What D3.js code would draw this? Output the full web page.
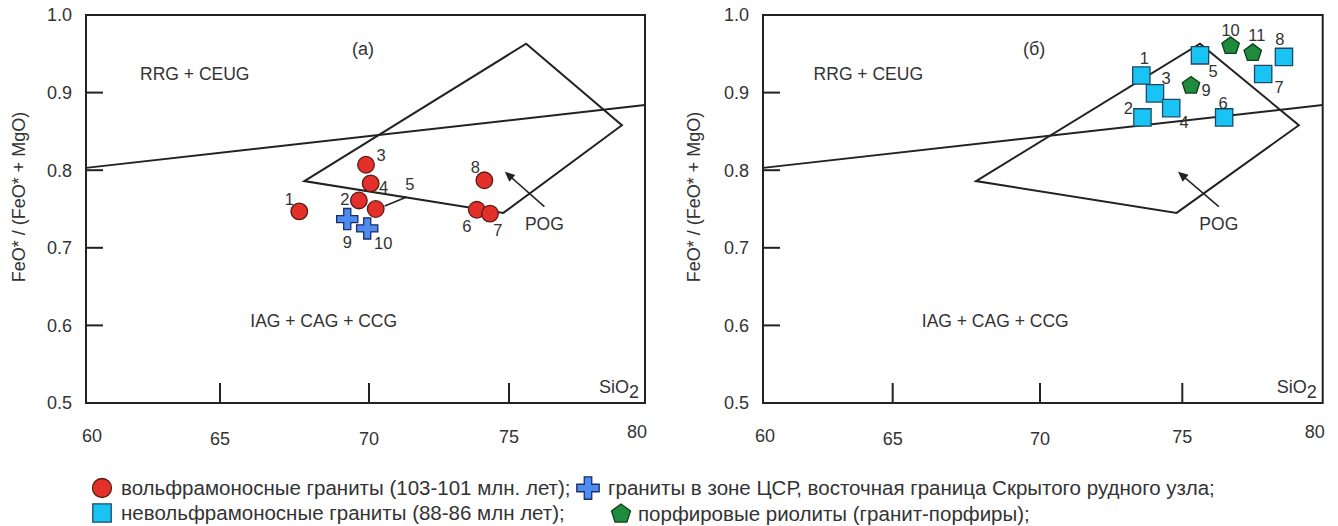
<!DOCTYPE html>
<html><head><meta charset="utf-8">
<script src="https://cdn.jsdelivr.net/npm/d3@7"></script>
<style>
body{margin:0;background:#fff}
text{font-family:"Liberation Sans",Arial,sans-serif;fill:#333}
</style>
</head><body>
<svg id="chart" width="1338" height="526"></svg>
<script>
// ---------- data ----------
const xTicks = [60, 65, 70, 75, 80];
const xTickLabels = ["60", "65", "70", "75", "80"];
const yTicks = [0.5, 0.6, 0.7, 0.8, 0.9, 1.0];
const yTickLabels = ["0.5", "0.6", "0.7", "0.8", "0.9", "1.0"];
const innerXTicks = [65, 70, 75];
const innerYTicks = [0.6, 0.7, 0.8, 0.9];

const dividerLine = [[60, 0.803], [80, 0.884]];
const pogField = [[67.83, 0.786], [75.63, 0.963], [79.15, 0.858], [74.8, 0.745]];
const pogArrow = [[76.3, 0.753], [74.85, 0.798]];

const fieldNames = ["RRG + CEUG", "IAG + CAG + CCG", "POG"];
const fieldSi = [64.06, 68.48, 76.3];
const fieldRatio = [0.924, 0.606, 0.731];

const panelTitles = ["(a)", "(б)"];
const yAxisTitle = "FeO* / (FeO* + MgO)";

// panel (a): tungsten-bearing granites (red circles)
const wIds = ["1", "2", "3", "4", "5", "6", "7", "8"];
const wSi = [67.66, 69.66, 69.90, 70.06, 70.24, 73.85, 74.32, 74.12];
const wRatio = [0.747, 0.761, 0.807, 0.783, 0.750, 0.749, 0.744, 0.787];

// panel (a): granites in the ЦСР zone (blue crosses)
const tsIds = ["9", "10"];
const tsSi = [69.27, 69.94];
const tsRatio = [0.737, 0.725];

// panel (б): non-tungsten granites (cyan squares)
const nwIds = ["1", "2", "3", "4", "5", "6", "7", "8"];
const nwSi = [73.56, 73.60, 74.04, 74.61, 75.63, 76.49, 77.88, 78.62];
const nwRatio = [0.922, 0.868, 0.899, 0.880, 0.948, 0.868, 0.924, 0.946];

// panel (б): porphyry rhyolites (green pentagons)
const rhIds = ["9", "10", "11"];
const rhSi = [75.31, 76.72, 77.51];
const rhRatio = [0.909, 0.960, 0.951];

const legendLabels = [
  "вольфрамоносные граниты (103-101 млн. лет);",
  "граниты в зоне ЦСР, восточная граница Скрытого рудного узла;",
  "невольфрамоносные граниты (88-86 млн лет);",
  "порфировые риолиты (гранит-порфиры);"
];

// ---------- layout / style ----------
const svg = d3.select("#chart");
const ink = "#222";
const styles = {
  circle: {fill: "#e3302a", stroke: "#5a1c18"},
  cross: {fill: "#4f8cf2", stroke: "#1b2d66"},
  square: {fill: "#19c3f3", stroke: "#1c4a66"},
  pentagon: {fill: "#1e8c3c", stroke: "#0f3d1c"}
};
const symbolPentagon = {
  draw(ctx, size) {
    const r = Math.sqrt(size);
    for (let i = 0; i < 5; i++) {
      const a = -Math.PI / 2 + i * 2 * Math.PI / 5;
      const px = r * Math.cos(a), py = r * Math.sin(a);
      if (i === 0) ctx.moveTo(px, py); else ctx.lineTo(px, py);
    }
    ctx.closePath();
  }
};
const symbolDefs = {
  circle: d3.symbol().type(d3.symbolCircle).size(Math.PI * 8.3 * 8.3),
  cross: d3.symbol().type(d3.symbolCross).size(250),
  square: d3.symbol().type(d3.symbolSquare).size(300),
  pentagon: d3.symbol().type(symbolPentagon).size(84)
};
const legendSymbolDefs = {
  circle: d3.symbol().type(d3.symbolCircle).size(Math.PI * 9.5 * 9.5),
  cross: d3.symbol().type(d3.symbolCross).size(280),
  square: d3.symbol().type(d3.symbolSquare).size(340),
  pentagon: d3.symbol().type(symbolPentagon).size(100)
};

const yRange = [403, 15];
const panels = [
  {xr: [86, 220, 369, 509, 645], title: 0, yTitleX: 19, tickDx: [6, 0, 0, 0, -8], tickDy: [-2, 1, 1, -1, -6],
   series: [
     {ids: wIds, si: wSi, ratio: wRatio, shape: "circle",
      off: [[-10, -12], [-14, -1], [15, -10], [13, 4], [34, -25], [-10, 16], [8, 17], [-9, -13]]},
     {ids: tsIds, si: tsSi, ratio: tsRatio, shape: "cross", off: [[0, 23], [16, 15]]}
   ],
   leader: {series: 0, index: 4, from: [9, -3], to: [31, -12]}},
  {xr: [763, 892.7, 1040, 1182.3, 1322.7], title: 1, yTitleX: 694, tickDx: [2, 0, 0, 0, -8], tickDy: [-2, 1, 1, -1, -6],
   series: [
     {ids: nwIds, si: nwSi, ratio: nwRatio, shape: "square",
      off: [[3, -17], [-14, -9], [11, -15], [13, 14], [13, 16], [-1, -14], [16, 13], [-4, -18]]},
     {ids: rhIds, si: rhSi, ratio: rhRatio, shape: "pentagon", off: [[15, 5], [0, -16], [4, -18]]}
   ]}
];

panels.forEach(p => {
  const x = d3.scaleLinear().domain(xTicks).range(p.xr);
  const y = d3.scaleLinear().domain([0.5, 1.0]).range(yRange);
  const g = svg.append("g");

  // frame
  g.append("rect").attr("x", x(60)).attr("y", y(1.0))
    .attr("width", x(80) - x(60)).attr("height", y(0.5) - y(1.0))
    .attr("fill", "none").attr("stroke", ink).attr("stroke-width", 2);

  // inner ticks
  g.selectAll(".xt").data(innerXTicks).join("line")
    .attr("x1", d => x(d)).attr("x2", d => x(d))
    .attr("y1", y(0.5)).attr("y2", y(0.5) - 20)
    .attr("stroke", ink).attr("stroke-width", 2);
  g.selectAll(".yt").data(innerYTicks).join("line")
    .attr("x1", x(60)).attr("x2", x(60) + 17)
    .attr("y1", d => y(d)).attr("y2", d => y(d))
    .attr("stroke", ink).attr("stroke-width", 2);

  // tick labels
  g.selectAll(".xl").data(xTicks).join("text")
    .attr("x", (d, i) => x(d) + p.tickDx[i]).attr("y", (d, i) => 444 + p.tickDy[i])
    .attr("text-anchor", "middle").attr("font-size", 18)
    .text((d, i) => xTickLabels[i]);
  g.selectAll(".yl").data(yTicks).join("text")
    .attr("x", x(60) - 14).attr("y", d => y(d))
    .attr("dy", "0.36em").attr("text-anchor", "end").attr("font-size", 18)
    .text((d, i) => yTickLabels[i]);

  // SiO2
  const si = g.append("text").attr("x", x(80) - 6).attr("y", 393)
    .attr("text-anchor", "end").attr("font-size", 18);
  si.append("tspan").text("SiO");
  si.append("tspan").attr("dy", 5).text("2");

  // y title
  g.append("text")
    .attr("transform", `translate(${p.yTitleX},${(y(1.0) + y(0.5)) / 2 - 12}) rotate(-90)`)
    .attr("text-anchor", "middle").attr("dy", "0.35em").attr("font-size", 18)
    .text(yAxisTitle);

  // panel title
  g.append("text").attr("x", x(69.8)).attr("y", y(0.957)).attr("dy", "0.35em")
    .attr("text-anchor", "middle").attr("font-size", 18).text(panelTitles[p.title]);

  // field names
  g.selectAll(".fn").data(fieldNames).join("text")
    .attr("x", (d, i) => x(fieldSi[i])).attr("y", (d, i) => y(fieldRatio[i]))
    .attr("dy", "0.35em").attr("text-anchor", "middle").attr("font-size", 17.5)
    .text(d => d);

  const line = d3.line().x(d => x(d[0])).y(d => y(d[1]));
  // divider
  g.append("path").attr("d", line(dividerLine)).attr("fill", "none")
    .attr("stroke", ink).attr("stroke-width", 2);
  // POG field
  g.append("path").attr("d", line(pogField) + "Z").attr("fill", "none")
    .attr("stroke", ink).attr("stroke-width", 2).attr("stroke-linejoin", "miter");
  // arrow
  const [t, h] = pogArrow.map(d => [x(d[0]), y(d[1])]);
  const ang = Math.atan2(h[1] - t[1], h[0] - t[0]);
  g.append("line").attr("x1", t[0]).attr("y1", t[1])
    .attr("x2", h[0] - 4 * Math.cos(ang)).attr("y2", h[1] - 4 * Math.sin(ang))
    .attr("stroke", ink).attr("stroke-width", 1.5);
  const L = 10, W = 4.5;
  const bx = h[0] - L * Math.cos(ang), by = h[1] - L * Math.sin(ang);
  g.append("path").attr("d",
    `M${h[0]},${h[1]}L${bx + W * Math.sin(ang)},${by - W * Math.cos(ang)}L${bx - W * Math.sin(ang)},${by + W * Math.cos(ang)}Z`)
    .attr("fill", ink);

  // leader line
  if (p.leader) {
    const s = p.series[p.leader.series];
    const px = x(s.si[p.leader.index]), py = y(s.ratio[p.leader.index]);
    g.append("line").attr("x1", px + p.leader.from[0]).attr("y1", py + p.leader.from[1])
      .attr("x2", px + p.leader.to[0]).attr("y2", py + p.leader.to[1])
      .attr("stroke", ink).attr("stroke-width", 1.5);
  }

  // points + labels
  p.series.forEach(s => {
    const st = styles[s.shape];
    g.selectAll(null).data(s.ids).join("path")
      .attr("transform", (d, i) => `translate(${x(s.si[i])},${y(s.ratio[i])})`)
      .attr("d", symbolDefs[s.shape]())
      .attr("fill", st.fill).attr("stroke", st.stroke).attr("stroke-width", 1.3);
    g.selectAll(null).data(s.ids).join("text")
      .attr("x", (d, i) => x(s.si[i]) + s.off[i][0])
      .attr("y", (d, i) => y(s.ratio[i]) + s.off[i][1])
      .attr("dy", "0.35em").attr("text-anchor", "middle").attr("font-size", 16.5)
      .text(d => d);
  });
});

// ---------- legend ----------
const legendItems = [
  {shape: "circle", sx: 102, sy: 488, tx: 121},
  {shape: "cross", sx: 588, sy: 488, tx: 608},
  {shape: "square", sx: 102, sy: 513, tx: 121},
  {shape: "pentagon", sx: 621, sy: 514, tx: 638}
];
const lg = svg.append("g");
legendItems.forEach((it, i) => {
  const st = styles[it.shape];
  lg.append("path").attr("transform", `translate(${it.sx},${it.sy})`)
    .attr("d", legendSymbolDefs[it.shape]())
    .attr("fill", st.fill).attr("stroke", st.stroke).attr("stroke-width", 1.3);
  lg.append("text").attr("x", it.tx).attr("y", it.sy).attr("dy", "0.35em")
    .attr("font-size", 20.5).text(legendLabels[i]);
});
</script>
</body></html>
